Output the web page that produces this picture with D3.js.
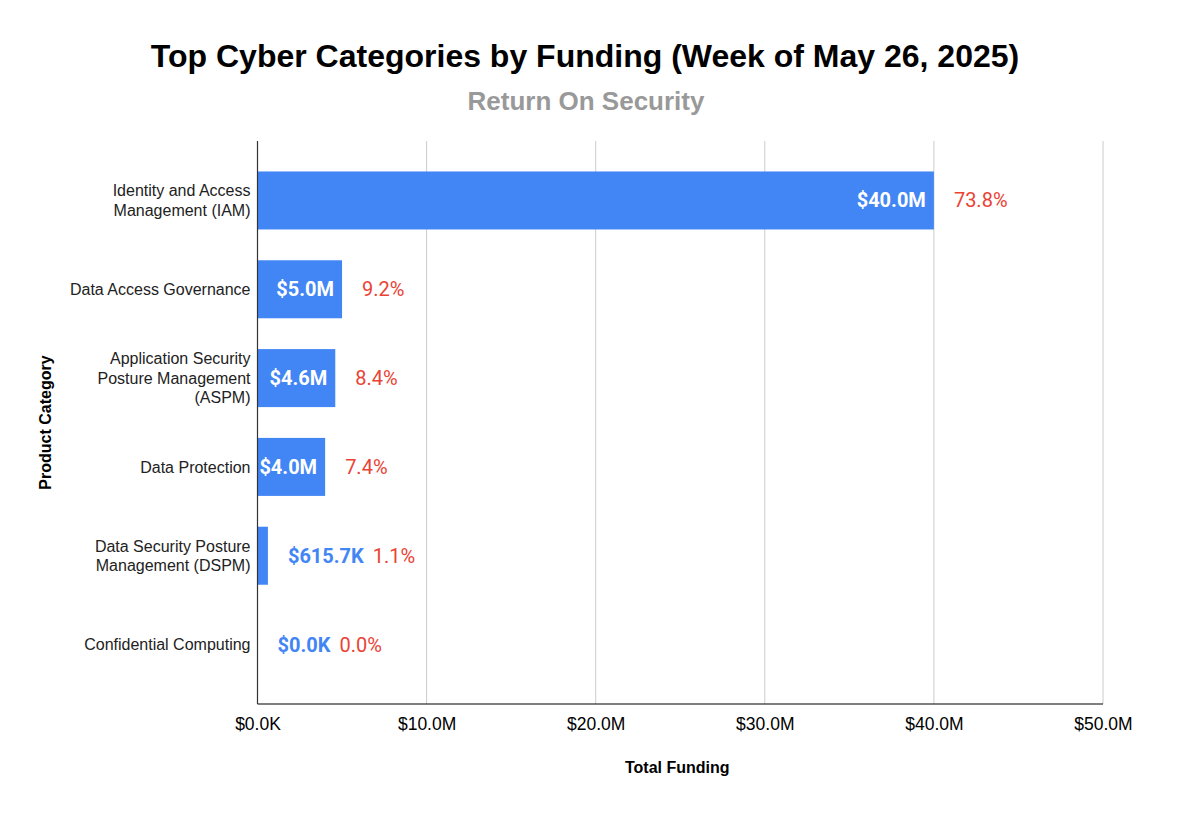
<!DOCTYPE html>
<html lang="en">
<head>
    <meta charset="UTF-8">
    <title>Top Cyber Categories by Funding</title>
    <script src="https://d3js.org/d3.v7.min.js"></script>
    <style>
        body { margin: 0; background: #fff; }
    </style>
</head>
<body>
    <div id="chart"></div>

    <script>
        // Data
        const categories = [
            "Identity and Access Management (IAM)",
            "Data Access Governance",
            "Application Security Posture Management (ASPM)",
            "Data Protection",
            "Data Security Posture Management (DSPM)",
            "Confidential Computing"
        ];
        const funding = [40000000, 5000000, 4600000, 4000000, 615700, 0];
        const shares = [73.8, 9.2, 8.4, 7.4, 1.1, 0.0];
        const xTicks = [0, 10000000, 20000000, 30000000, 40000000, 50000000];

        const data = categories.map((c, i) => ({ category: c, value: funding[i], share: shares[i] }));

        const W = 1178, H = 818;
        const margin = { top: 141, right: 75, bottom: 114, left: 257.5 };
        const width = W - margin.left - margin.right,
              height = H - margin.top - margin.bottom;

        const blue = "#4285f4", red = "#ea4335";
        const sans = "'Liberation Sans', Arial, sans-serif";

        const svg = d3.select("#chart")
            .append("svg")
            .attr("width", W)
            .attr("height", H);

        // Money format like the sheet: $40.0M / $615.7K
        function money(v) {
            if (v >= 1e6) return "$" + (v / 1e6).toFixed(1) + "M";
            return "$" + (v / 1e3).toFixed(1) + "K";
        }

        // Titles
        svg.append("text")
            .attr("x", 585).attr("y", 67)
            .attr("text-anchor", "middle")
            .style("font-family", sans)
            .style("font-weight", "bold")
            .style("font-size", "32px")
            .attr("fill", "#000")
            .text("Top Cyber Categories by Funding (Week of May 26, 2025)");

        svg.append("text")
            .attr("x", 586).attr("y", 110)
            .attr("text-anchor", "middle")
            .style("font-family", sans)
            .style("font-weight", "bold")
            .style("font-size", "26px")
            .attr("fill", "#999999")
            .text("Return On Security");

        const g = svg.append("g")
            .attr("transform", `translate(${margin.left}, ${margin.top})`);

        // Scales
        const x = d3.scaleLinear()
            .domain([0, 50000000])
            .range([0, width]);

        const y = d3.scaleBand()
            .domain(categories)
            .range([0, height])
            .paddingInner(0.347)
            .paddingOuter(0.343);

        // Gridlines
        g.append("g")
            .selectAll("line")
            .data(xTicks.slice(1))
            .join("line")
            .attr("x1", d => x(d)).attr("x2", d => x(d))
            .attr("y1", 0).attr("y2", height)
            .attr("stroke", "#cccccc")
            .attr("stroke-width", 1);

        // Bars
        g.append("g")
            .selectAll("rect")
            .data(data)
            .join("rect")
            .attr("x", 0)
            .attr("y", d => y(d.category))
            .attr("width", d => x(d.value))
            .attr("height", y.bandwidth())
            .attr("fill", blue);

        // Axes lines
        g.append("line")
            .attr("x1", 0).attr("x2", width)
            .attr("y1", height).attr("y2", height)
            .attr("stroke", "#000").attr("stroke-width", 1.2);
        g.append("line")
            .attr("x1", 0).attr("x2", 0)
            .attr("y1", 0).attr("y2", height)
            .attr("stroke", "#333").attr("stroke-width", 1.2);

        // X axis tick labels
        const xAxis = g.append("g")
            .attr("transform", `translate(0, ${height})`)
            .call(d3.axisBottom(x).tickValues(xTicks).tickSize(0).tickPadding(14).tickFormat(money));
        xAxis.select(".domain").remove();
        xAxis.selectAll("text")
            .style("font-family", sans)
            .style("font-size", "17.5px")
            .attr("fill", "#000");

        // Y axis category labels, wrapped
        const yAxis = g.append("g")
            .call(d3.axisLeft(y).tickSize(0).tickPadding(7));
        yAxis.select(".domain").remove();
        yAxis.selectAll("text")
            .style("font-family", sans)
            .style("font-size", "16px")
            .attr("fill", "#222")
            .each(function (d) {
                const t = d3.select(this);
                const words = d.split(" ");
                const lines = [];
                let line = [];
                t.text(null);
                const probe = t.append("tspan");
                words.forEach(w => {
                    line.push(w);
                    probe.text(line.join(" "));
                    if (probe.node().getComputedTextLength() > 190 && line.length > 1) {
                        line.pop();
                        lines.push(line.join(" "));
                        line = [w];
                    }
                });
                lines.push(line.join(" "));
                probe.remove();
                const lh = 19.5;
                const x0 = t.attr("x");
                lines.forEach((l, i) => {
                    t.append("tspan")
                        .attr("x", x0)
                        .attr("y", (i - (lines.length - 1) / 2) * lh)
                        .attr("dy", "0.35em")
                        .text(l);
                });
                t.attr("dy", null);
            });

        // Value and share labels
        const labels = g.append("g")
            .selectAll("g")
            .data(data)
            .join("g")
            .attr("transform", d => `translate(0, ${y(d.category) + y.bandwidth() / 2})`);

        labels.each(function (d) {
            const lg = d3.select(this);
            const end = x(d.value);
            const v = lg.append("text")
                .attr("dy", "0.35em")
                .style("font-family", "Roboto, sans-serif")
                .style("font-weight", "bold")
                .style("font-size", "20px")
                .text(money(d.value));
            const tw = v.node().getComputedTextLength();
            let pctX;
            if (tw + 4 < end) {
                v.attr("x", end - 8).attr("text-anchor", "end").attr("fill", "#fff");
                pctX = end + 20;
            } else {
                v.attr("x", end + 20).attr("text-anchor", "start").attr("fill", blue);
                pctX = end + 20 + tw + 9;
            }
            lg.append("text")
                .attr("x", pctX)
                .attr("dy", "0.35em")
                .style("font-family", "Roboto, sans-serif")
                .style("font-size", "20px")
                .attr("fill", red)
                .text(d.share.toFixed(1) + "%");
        });

        // Axis titles
        svg.append("text")
            .attr("x", margin.left + x(25000000) - 3)
            .attr("y", 773)
            .attr("text-anchor", "middle")
            .style("font-family", sans)
            .style("font-weight", "bold")
            .style("font-size", "16px")
            .attr("fill", "#000")
            .text("Total Funding");

        svg.append("text")
            .attr("transform", `translate(51, ${margin.top + height / 2}) rotate(-90)`)
            .attr("text-anchor", "middle")
            .style("font-family", sans)
            .style("font-weight", "bold")
            .style("font-size", "16px")
            .attr("fill", "#000")
            .text("Product Category");
    </script>
</body>
</html>
